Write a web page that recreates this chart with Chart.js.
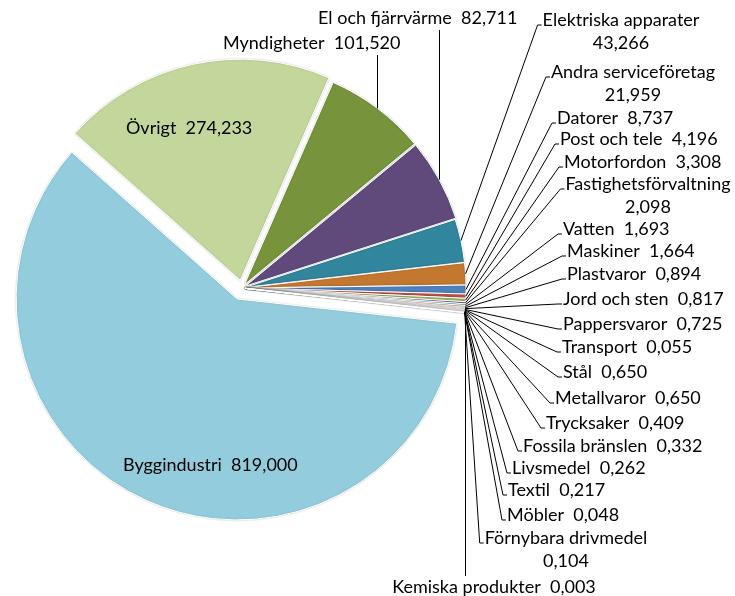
<!DOCTYPE html>
<html>
<head>
<meta charset="utf-8">
<script src="https://cdn.jsdelivr.net/npm/chart.js@4.4.1/dist/chart.umd.min.js"></script>
<style>
  html, body { margin: 0; padding: 0; background: #fff; }
  #wrap { width: 735px; height: 596px; }
</style>
</head>
<body>
<div id="wrap"><canvas id="pie" width="735" height="596"></canvas></div>
<script>
// --- Data ---
const categories = [
  'Byggindustri', 'Övrigt', 'Myndigheter', 'El och fjärrvärme', 'Elektriska apparater',
  'Andra serviceföretag', 'Datorer', 'Post och tele', 'Motorfordon', 'Fastighetsförvaltning',
  'Vatten', 'Maskiner', 'Plastvaror', 'Jord och sten', 'Pappersvaror',
  'Transport', 'Stål', 'Metallvaror', 'Trycksaker', 'Fossila bränslen',
  'Livsmedel', 'Textil', 'Möbler', 'Förnybara drivmedel', 'Kemiska produkter'
];
const values = [
  819.000, 274.233, 101.520, 82.711, 43.266,
  21.959, 8.737, 4.196, 3.308, 2.098,
  1.693, 1.664, 0.894, 0.817, 0.725,
  0.055, 0.650, 0.650, 0.409, 0.332,
  0.262, 0.217, 0.048, 0.104, 0.003
];
// labels that wrap onto a second line (value below the name)
const wrapped = ['Elektriska apparater', 'Andra serviceföretag', 'Fastighetsförvaltning', 'Förnybara drivmedel'];

// --- Styles ---
const colors = [
  '#93CDDD', '#C3D69B', '#77933C', '#604A7B', '#31859C',
  '#C3772F', '#4F81BD', '#C0504D', '#9BBB59', '#8064A2',
  '#4BACC6', '#F79646', '#2C4D75', '#772C2A', '#5F7530',
  '#4D3B62', '#276A7C', '#B65708', '#729ACA', '#CD7371',
  '#AFC97A', '#9983B5', '#6FBDD1', '#F9AB6B', '#3A679C'
];
// explosion distance of each slice, px
const explode = categories.map((c, i) => i === 0 ? 12 : (i === 1 ? 8 : (i < 4 ? 4 : 3)));
const FONT = '18px Lato, "Open Sans", sans-serif';
const LINE_H = 23.5;

// label placement: kind = inside | up | left | down; x is left edge, or centre when align = center
const labelLayout = [
  { kind: 'inside', x: 123, y: 465 },
  { kind: 'inside', x: 126, y: 128 },
  { kind: 'up', x: 223, y: 43 },
  { kind: 'up', x: 318, y: 18 },
  { kind: 'left', x: 621, y: 20, align: 'center' },
  { kind: 'left', x: 633, y: 72, align: 'center' },
  { kind: 'left', x: 557, y: 118 },
  { kind: 'left', x: 560, y: 139 },
  { kind: 'left', x: 564, y: 162 },
  { kind: 'left', x: 648, y: 184, align: 'center' },
  { kind: 'left', x: 563, y: 229 },
  { kind: 'left', x: 567, y: 251 },
  { kind: 'left', x: 567, y: 274 },
  { kind: 'left', x: 563, y: 299 },
  { kind: 'left', x: 563, y: 324 },
  { kind: 'left', x: 562, y: 347 },
  { kind: 'left', x: 563, y: 372 },
  { kind: 'left', x: 555, y: 398 },
  { kind: 'left', x: 546, y: 423 },
  { kind: 'left', x: 523, y: 446 },
  { kind: 'left', x: 512, y: 468 },
  { kind: 'left', x: 508, y: 490 },
  { kind: 'left', x: 507, y: 515 },
  { kind: 'left', x: 566, y: 538, align: 'center' },
  { kind: 'down', x: 494, y: 587, align: 'center' }
];

function fmt(v) {
  return v.toFixed(3).replace('.', ',');
}

function labelLines(i) {
  const name = categories[i];
  const val = fmt(values[i]);
  if (wrapped.includes(name)) return [name, val];
  return [name + '  ' + val];
}

function midAngle(arc) {
  const p = arc.getProps(['startAngle', 'endAngle'], true);
  return (p.startAngle + p.endAngle) / 2;
}

// --- Exploded slices: draw each arc shifted outwards along its mid angle ---
const explodedPie = {
  id: 'explodedPie',
  beforeDatasetDraw(chart, args) {
    const ctx = chart.ctx;
    args.meta.data.forEach((arc, i) => {
      const a = midAngle(arc);
      ctx.save();
      ctx.translate(Math.cos(a) * explode[i], Math.sin(a) * explode[i]);
      ctx.shadowColor = 'rgba(0,0,0,0.18)';
      ctx.shadowBlur = 2;
      arc.draw(ctx, chart.chartArea);
      ctx.restore();
    });
    return false;
  }
};

// --- Leader-line labels ---
const leaderLabels = {
  id: 'leaderLabels',
  afterDatasetsDraw(chart) {
    const ctx = chart.ctx;
    const meta = chart.getDatasetMeta(0);
    ctx.save();
    ctx.font = FONT;
    ctx.fillStyle = '#000';
    ctx.strokeStyle = '#000';
    ctx.lineWidth = 1;
    ctx.textBaseline = 'middle';

    meta.data.forEach((arc, i) => {
      const lay = labelLayout[i];
      const lines = labelLines(i);
      const p = arc.getProps(['x', 'y', 'outerRadius'], true);
      const a = midAngle(arc);
      const r = p.outerRadius + explode[i];
      const px = p.x + Math.cos(a) * r;
      const py = p.y + Math.sin(a) * r;

      const w0 = ctx.measureText(lines[0]).width;
      const left0 = lay.align === 'center' ? lay.x - w0 / 2 : lay.x;

      ctx.beginPath();
      if (lay.kind === 'up') {
        ctx.moveTo(Math.round(px) + 0.5, lay.y + 12);
        ctx.lineTo(Math.round(px) + 0.5, py);
      } else if (lay.kind === 'down') {
        ctx.moveTo(Math.round(px) + 0.5, py);
        ctx.lineTo(Math.round(px) + 0.5, lay.y - 11);
      } else if (lay.kind === 'left') {
        const ax = left0 - 5, ay = lay.y + 5;
        ctx.moveTo(px, py);
        ctx.lineTo(ax, ay);
        ctx.lineTo(left0 - 1, ay);
      }
      ctx.stroke();

      lines.forEach((t, k) => {
        const w = ctx.measureText(t).width;
        const tx = lay.align === 'center' ? lay.x - w / 2 : lay.x;
        ctx.fillText(t, tx, lay.y + k * LINE_H);
      });
    });
    ctx.restore();
  }
};

// --- Chart ---
const ctx = document.getElementById('pie').getContext('2d');
new Chart(ctx, {
  type: 'pie',
  data: {
    labels: categories,
    datasets: [{
      data: values,
      backgroundColor: colors,
      borderColor: '#ffffff',
      borderWidth: 1
    }]
  },
  options: {
    responsive: false,
    animation: false,
    rotation: 96.3,
    radius: 221,
    layout: { padding: { left: 0, right: 251, top: 0, bottom: 20 } },
    plugins: {
      legend: { display: false },
      tooltip: { enabled: false }
    }
  },
  plugins: [explodedPie, leaderLabels]
});
</script>
</body>
</html>
